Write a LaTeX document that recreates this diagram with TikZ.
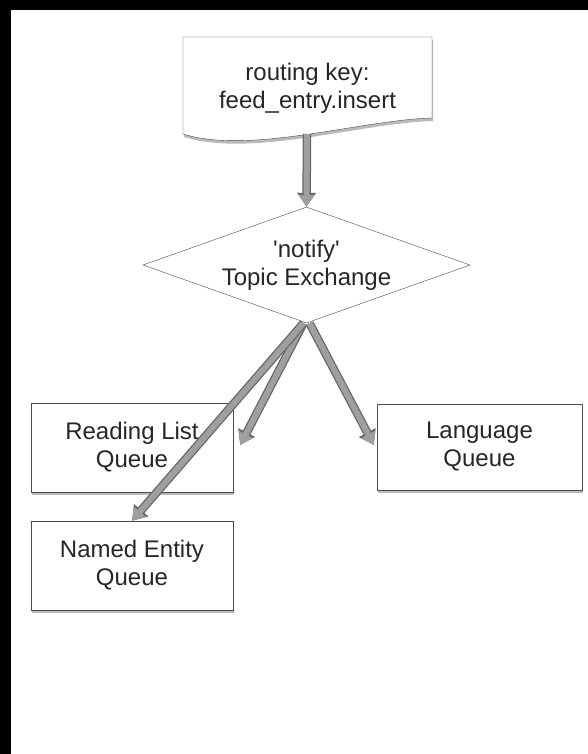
\documentclass[tikz,border=0pt]{standalone}
\usepackage{fontspec}
\setmainfont{Liberation Sans}
\usepackage{tikz}
\usetikzlibrary{shapes.geometric}
\usetikzlibrary{arrows.meta}
\usetikzlibrary{shadows}

\tikzset{
  boxshadow/.style={drop shadow={shadow xshift=1pt,shadow yshift=-3pt,opacity=0.55}},
  queue/.style={draw=black!70, fill=white, inner sep=0pt, align=center, boxshadow},
  exchange/.style={diamond, draw=black!70, fill=white, aspect=2.82, inner sep=0pt,
    minimum width=327pt, minimum height=116pt, align=center},
  flow/.style={draw=gray!75, line width=6pt, -{Triangle[length=12pt,width=15pt]},
    preaction={draw=black!60, line width=8.5pt, -{Triangle[length=14pt,width=18pt]}}}
}

\begin{document}
\begin{tikzpicture}[x=1pt, y=-1pt,
    every node/.style={font=\fontsize{24}{28}\selectfont, text=black!85}]
  \fill[black] (0,0) rectangle (588,754);
  \fill[white] (11,10) rectangle (588,754);

  \draw[draw=black!70, fill=white, boxshadow] (183,37) -- (432,37) -- (432,118)
    .. controls (360,120) and (250,155) .. (183,134) -- cycle;
  \node[align=center] (key) at (307.5,88) {routing key:\\feed\_entry.insert};
  \coordinate (keybot) at (307,134);

  \node[exchange] (ex) at (306.5,265) {\textquotesingle notify\textquotesingle\\Topic Exchange};

  \node[queue, minimum width=202pt, minimum height=89pt] (rl) at (132,447.5) {Reading List\\Queue};
  \node[queue, minimum width=202pt, minimum height=89pt] (ne) at (132,565.5) {Named Entity\\Queue};
  \node[queue, minimum width=205pt, minimum height=86pt] (lang) at (479.5,447) {Language\\Queue};

  \draw[flow] (keybot) -- (ex.north);
  \draw[flow] ([xshift=-3pt]ex.south) -- ([xshift=7pt,yshift=2.5pt]rl.east);
  \draw[flow] ([xshift=-3pt]ex.south) -- (ne.north);
  \draw[flow] ([xshift=3pt]ex.south) -- ([xshift=-3pt,yshift=2pt]lang.west);
\end{tikzpicture}
\end{document}
